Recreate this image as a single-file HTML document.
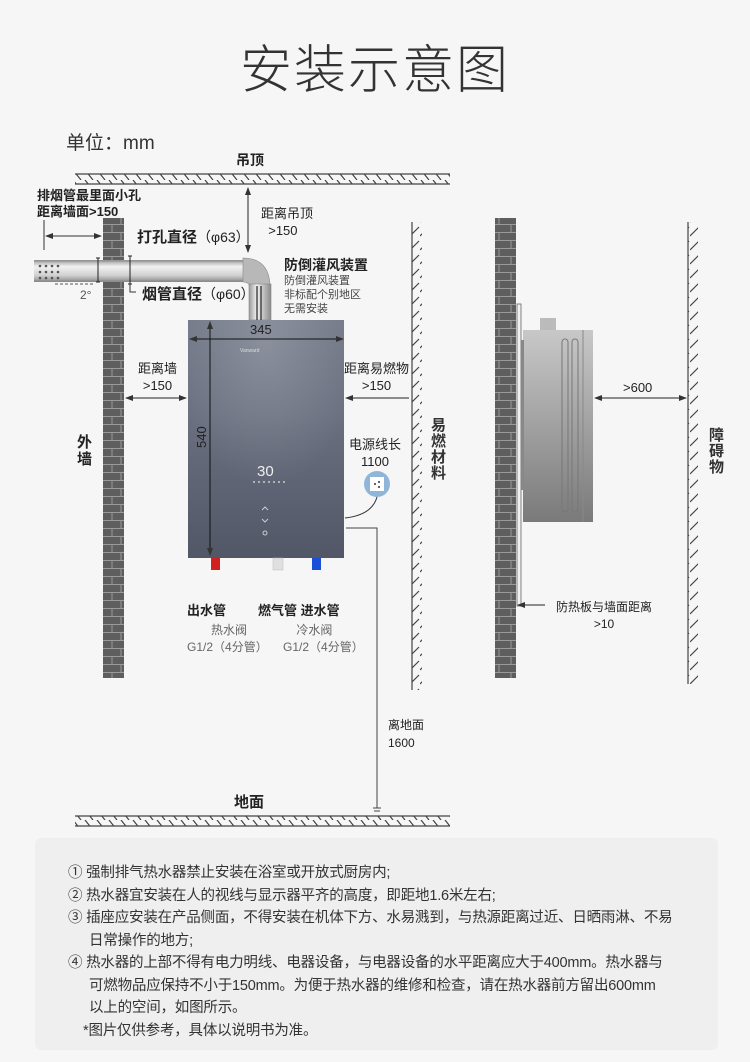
<!DOCTYPE html>
<html><head><meta charset="utf-8"><style>
html,body{margin:0;padding:0;background:#f6f6f6;}
body{width:750px;height:1062px;position:relative;overflow:hidden;font-family:"Liberation Sans","Noto Sans CJK SC",sans-serif;color:#222;}
.t{position:absolute;white-space:nowrap;}
.b{font-weight:bold;}
</style></head><body>
<svg width="750" height="1062" style="position:absolute;left:0;top:0">
<defs>
<pattern id="brick" width="21" height="16" patternUnits="userSpaceOnUse">
<rect width="21" height="16" fill="#5e5e5e"/>
<path d="M0 0.5H21M0 8.5H21M7 0V8M16 8V16" stroke="#9a9a9a" stroke-width="1"/>
</pattern>
<pattern id="hatchH" width="12" height="10" patternUnits="userSpaceOnUse">
<path d="M1 0L9 10" stroke="#444" stroke-width="1.2"/>
</pattern>
<pattern id="hatchV" width="10" height="14" patternUnits="userSpaceOnUse">
<path d="M0 12L9 3" stroke="#444" stroke-width="1.2"/>
</pattern>
<radialGradient id="heatR" cx="0.5" cy="0.1" r="0.6">
<stop offset="0" stop-color="#fff" stop-opacity="0.18"/><stop offset="1" stop-color="#fff" stop-opacity="0"/>
</radialGradient>
<linearGradient id="heat" x1="0" y1="0" x2="0" y2="1">
<stop offset="0" stop-color="#737988"/><stop offset="0.4" stop-color="#6a7080"/><stop offset="1" stop-color="#515766"/>
</linearGradient>
<linearGradient id="pipe" x1="0" y1="0" x2="0" y2="1">
<stop offset="0" stop-color="#9a9a9a"/><stop offset="0.3" stop-color="#f2f2f2"/><stop offset="0.7" stop-color="#d0d0d0"/><stop offset="1" stop-color="#8a8a8a"/>
</linearGradient>
<linearGradient id="pipeV" x1="0" y1="0" x2="1" y2="0">
<stop offset="0" stop-color="#9a9a9a"/><stop offset="0.35" stop-color="#f2f2f2"/><stop offset="1" stop-color="#8a8a8a"/>
</linearGradient>
<linearGradient id="side" x1="0" y1="0" x2="0" y2="1">
<stop offset="0" stop-color="#c8c8c8"/><stop offset="1" stop-color="#7a7a7a"/>
</linearGradient>
<marker id="ar" markerWidth="8" markerHeight="8" refX="7" refY="4" orient="auto"><path d="M0 1L8 4L0 7z" fill="#333"/></marker>
<marker id="al" markerWidth="8" markerHeight="8" refX="1" refY="4" orient="auto"><path d="M8 1L0 4L8 7z" fill="#333"/></marker>
</defs>
<rect x="75" y="174" width="375" height="10" fill="url(#hatchH)"/>
<path d="M75 174H450M75 184H450" stroke="#444" stroke-width="1.2"/>
<rect x="75" y="816" width="375" height="10" fill="url(#hatchH)"/>
<path d="M75 816H450M75 826H450" stroke="#444" stroke-width="1.2"/>
<rect x="103" y="218" width="21" height="460" fill="url(#brick)"/>
<rect x="495" y="218" width="21" height="460" fill="url(#brick)"/>
<rect x="412" y="222" width="10" height="468" fill="url(#hatchV)"/>
<path d="M412 222V690" stroke="#444" stroke-width="1.2"/>
<rect x="688" y="222" width="10" height="462" fill="url(#hatchV)"/>
<path d="M688 222V684" stroke="#444" stroke-width="1.2"/>
<path d="M34 260H245V282H34z" fill="url(#pipe)"/>
<path d="M34 261H245M34 281H245" stroke="#888" stroke-width="0.8"/>
<g fill="#555"><circle cx="40" cy="266" r="1.3"/><circle cx="46" cy="266" r="1.3"/><circle cx="52" cy="266" r="1.3"/><circle cx="58" cy="266" r="1.3"/><circle cx="40" cy="272" r="1.3"/><circle cx="46" cy="272" r="1.3"/><circle cx="52" cy="272" r="1.3"/><circle cx="58" cy="272" r="1.3"/><circle cx="40" cy="278" r="1.3"/><circle cx="46" cy="278" r="1.3"/><circle cx="52" cy="278" r="1.3"/><circle cx="58" cy="278" r="1.3"/></g>
<path d="M243 258Q268 258 270 284L250 286Q248 282 243 282z" fill="#b8b8b8" stroke="#888" stroke-width="0.6"/>
<rect x="249" y="284" width="22" height="36" fill="url(#pipeV)" stroke="#888" stroke-width="0.6"/>
<path d="M257 286V320M261 286V320" stroke="#222" stroke-width="1.2"/>
<path d="M98 258V282M130 256V284M96 258H100M96 282H100M128 256H132M128 284H132" stroke="#222" stroke-width="1"/>
<path d="M44 220V250" stroke="#333" stroke-width="1"/>
<path d="M46 236H101" stroke="#333" stroke-width="1" marker-start="url(#al)" marker-end="url(#ar)"/>
<path d="M55 284H95" stroke="#555" stroke-width="1" stroke-dasharray="3 2"/>
<path d="M130 284V292H136" stroke="#333" stroke-width="1" fill="none"/>
<path d="M248 188V252" stroke="#222" stroke-width="1" marker-start="url(#al)" marker-end="url(#ar)"/>
<rect x="188" y="320" width="156" height="238" fill="url(#heat)"/>
<rect x="188" y="320" width="156" height="238" fill="url(#heatR)"/>
<path d="M190 339H343" stroke="#111" stroke-width="1" marker-start="url(#al)" marker-end="url(#ar)"/>
<path d="M210 322V555" stroke="#111" stroke-width="1" marker-start="url(#al)" marker-end="url(#ar)"/>
<text x="0" y="0" transform="translate(206 448) rotate(-90)" font-size="13" fill="#222" font-family="Liberation Sans">540</text>
<text x="240" y="352" font-size="5" fill="#ddd" font-family="Liberation Sans">Vanward</text>
<text x="257" y="476" font-size="15" fill="#eee" font-family="Liberation Sans">30</text>
<path d="M253 482H285" stroke="#ccc" stroke-width="1.5" stroke-dasharray="2 3"/>
<path d="M262 510L265 507L268 510M262 519L265 522L268 519" stroke="#ccc" fill="none"/>
<circle cx="265" cy="533" r="2" stroke="#ccc" fill="none"/>
<rect x="211" y="558" width="9" height="12" fill="#d02020"/>
<rect x="273" y="558" width="10" height="12" fill="#e0e0e0" stroke="#bbb" stroke-width="0.5"/>
<rect x="312" y="558" width="9" height="12" fill="#1a4fd8"/>
<path d="M126 398H186" stroke="#222" stroke-width="1" marker-start="url(#al)" marker-end="url(#ar)"/>
<path d="M346 398H409" stroke="#222" stroke-width="1" marker-start="url(#al)"/>
<circle cx="377" cy="484" r="13" fill="#8fb6d8"/>
<rect x="370" y="477" width="14" height="14" fill="#fff"/>
<circle cx="375" cy="484" r="1" fill="#333"/><circle cx="379" cy="482" r="1" fill="#333"/><circle cx="379" cy="487" r="1" fill="#333"/>
<path d="M377 497Q372 515 345 518" stroke="#333" fill="none"/>
<path d="M346 528H377V808" stroke="#444" stroke-width="1" fill="none"/>
<path d="M373 808H381M374 811H380" stroke="#444"/>
<rect x="517" y="304" width="4" height="302" fill="#f0f0f0" stroke="#666" stroke-width="0.8"/>
<rect x="523" y="330" width="70" height="192" fill="url(#side)"/>
<rect x="521" y="340" width="3" height="150" fill="#888"/>
<rect x="540" y="318" width="16" height="12" fill="#bbb"/>
<rect x="562" y="339" width="6" height="173" rx="3" fill="none" stroke="#777"/>
<rect x="572" y="339" width="6" height="173" rx="3" fill="none" stroke="#777"/>
<path d="M583 330V522" stroke="#888"/>
<path d="M595 398H686" stroke="#222" stroke-width="1" marker-start="url(#al)" marker-end="url(#ar)"/>
<path d="M518 605H545" stroke="#222" stroke-width="1" marker-start="url(#al)"/>
<rect x="35" y="838" width="683" height="212" rx="6" fill="#efefef"/>
</svg>
<div class="t" style="left:0;width:750px;text-align:center;top:28px;font-size:52px;font-weight:300;color:#333;letter-spacing:2px">安装示意图</div>
<div class="t" style="left:66px;top:128px;font-size:19px;color:#333">单位：mm</div>
<div class="t b" style="left:236px;top:150px;font-size:14px">吊顶</div>
<div class="t b" style="left:234px;top:791px;font-size:15px">地面</div>
<div class="t b" style="left:37px;top:188px;font-size:13px;line-height:16px">排烟管最里面小孔<br>距离墙面&gt;150</div>
<div class="t b" style="left:137px;top:226px;font-size:15px">打孔直径<span style="font-weight:normal;font-size:14px">（φ63）</span></div>
<div class="t b" style="left:142px;top:283px;font-size:15px">烟管直径<span style="font-weight:normal;font-size:14px">（φ60）</span></div>
<div class="t" style="left:80px;top:288px;font-size:12px;color:#555">2°</div>
<div class="t" style="left:261px;top:205px;font-size:13px;line-height:17px">距离吊顶<br>&nbsp;&nbsp;&gt;150</div>
<div class="t b" style="left:284px;top:255px;font-size:14px">防倒灌风装置</div>
<div class="t" style="left:284px;top:274px;font-size:11px;line-height:14px;color:#444">防倒灌风装置<br>非标配个别地区<br>无需安装</div>
<div class="t" style="left:250px;top:322px;font-size:13px;color:#222">345</div>
<div class="t" style="left:138px;top:360px;font-size:13px;line-height:17px;text-align:center">距离墙<br>&gt;150</div>
<div class="t" style="left:344px;top:360px;font-size:13px;line-height:17px;text-align:center">距离易燃物<br>&gt;150</div>
<div class="t b" style="left:77px;top:434px;font-size:15px;line-height:17px">外<br>墙</div>
<div class="t b" style="left:431px;top:418px;font-size:15px;line-height:16px;color:#333">易<br>燃<br>材<br>料</div>
<div class="t b" style="left:709px;top:428px;font-size:15px;line-height:16px;color:#333">障<br>碍<br>物</div>
<div class="t" style="left:349px;top:436px;font-size:13px;line-height:17px;text-align:center">电源线长<br>1100</div>
<div class="t b" style="left:187px;top:600px;font-size:13px">出水管</div>
<div class="t b" style="left:258px;top:600px;font-size:13px">燃气管 进水管</div>
<div class="t" style="left:187px;top:622px;font-size:12px;line-height:17px;color:#666;text-align:center">&nbsp;热水阀<br>G1/2（4分管）</div>
<div class="t" style="left:283px;top:622px;font-size:12px;line-height:17px;color:#666">&nbsp;&nbsp;&nbsp;&nbsp;冷水阀<br>G1/2（4分管）</div>
<div class="t" style="left:623px;top:380px;font-size:13px">&gt;600</div>
<div class="t" style="left:556px;top:599px;font-size:12px;line-height:17px;text-align:center">防热板与墙面距离<br>&gt;10</div>
<div class="t" style="left:388px;top:716px;font-size:12px;line-height:18px">离地面<br>1600</div>
<div class="t" style="left:68px;top:862px;font-size:14.5px;line-height:22.5px;color:#333;letter-spacing:-0.2px">
<div>① 强制排气热水器禁止安装在浴室或开放式厨房内;</div>
<div>② 热水器宜安装在人的视线与显示器平齐的高度，即距地1.6米左右;</div>
<div>③ 插座应安装在产品侧面，不得安装在机体下方、水易溅到，与热源距离过近、日晒雨淋、不易<br><span style="padding-left:21px">日常操作的地方;</span></div>
<div>④ 热水器的上部不得有电力明线、电器设备，与电器设备的水平距离应大于400mm。热水器与<br><span style="padding-left:21px">可燃物品应保持不小于150mm。为便于热水器的维修和检查，请在热水器前方留出600mm</span><br><span style="padding-left:21px">以上的空间，如图所示。</span></div>
<div style="padding-left:15px">*图片仅供参考，具体以说明书为准。</div>
</div>
</body></html>
